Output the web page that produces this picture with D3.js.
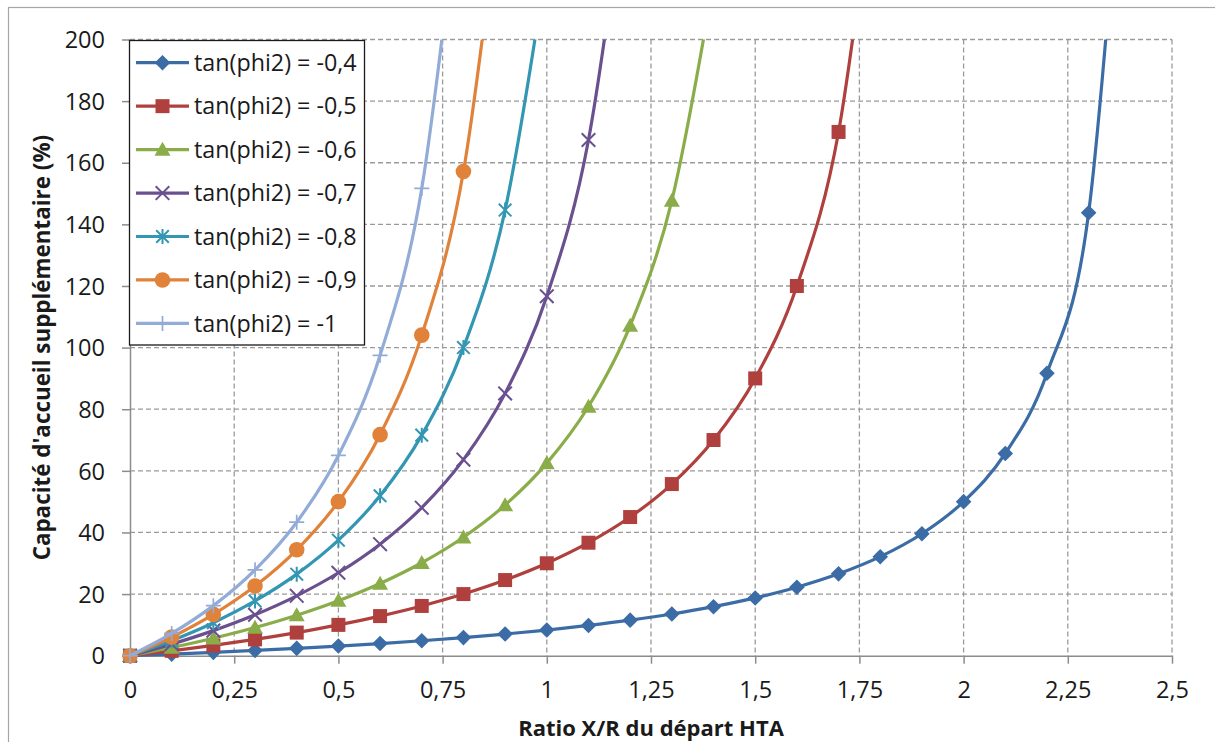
<!DOCTYPE html>
<html><head><meta charset="utf-8">
<script src="https://cdn.jsdelivr.net/npm/d3@7"></script>
<style>body{margin:0;background:#fff}svg{display:block}</style>
</head><body>
<svg id="c" width="1215" height="742"></svg>
<script>
// ---- data (last value of each series lies above the axis max and is clipped) ----
const xValues = [0,0.1,0.2,0.3,0.4,0.5,0.6,0.7,0.8,0.9,1,1.1,1.2,1.3,1.4,1.5,1.6,1.7,1.8,1.9,2,2.1,2.2,2.3,2.4];
const seriesNames = ["tan(phi2) = -0,4","tan(phi2) = -0,5","tan(phi2) = -0,6","tan(phi2) = -0,7","tan(phi2) = -0,8","tan(phi2) = -0,9","tan(phi2) = -1"];
const tan04 = [0,0.52,1.09,1.70,2.38,3.13,3.95,4.86,5.88,7.03,8.33,9.82,11.54,13.54,15.91,18.75,22.22,26.56,32.14,39.58,50,65.63,91.67,143.75,300];
const tan05 = [0,1.58,3.33,5.29,7.5,10,12.86,16.15,20,24.55,30,36.67,45,55.71,70,90,120,170,270];
const tan06 = [0,2.66,5.68,9.15,13.16,17.86,23.44,30.17,38.46,48.91,62.5,80.88,107.14,147.73,218.75];
const tan07 = [0,3.76,8.14,13.29,19.44,26.92,36.21,48.04,63.64,85.14,116.67,167.39,262.5];
const tan08 = [0,4.89,10.71,17.76,26.47,37.5,51.92,71.59,100,144.64,225];
const tan09 = [0,6.04,13.41,22.60,34.38,50,71.74,104.05,157.14,260.53];
const tan10 = [0,7.22,16.25,27.86,43.33,65,97.5,151.67,260];
const xTicks = [0,0.25,0.5,0.75,1,1.25,1.5,1.75,2,2.25,2.5];
const yTicks = [0,20,40,60,80,100,120,140,160,180,200];
const seriesValues = [tan04,tan05,tan06,tan07,tan08,tan09,tan10];
const colors = ["#3B6CA6","#AF403D","#8AAD4A","#6A508F","#3397B3","#E1823A","#92ACD7"];
const markerTypes = ["diamond","square","triangle","x","asterisk","circle","plus"];
const xTitle = "Ratio X/R du départ HTA";
const yTitle = "Capacité d'accueil supplémentaire (%)";

// ---- layout ----
const FONT = "'Open Sans', sans-serif";
const L = 130, R = 1172, T = 39.5, B = 655.7;
const svg = d3.select("#c");
const x = d3.scaleLinear().domain([0,2.5]).range([L,R]);
const y = d3.scaleLinear().domain([0,200]).range([B,T]);
const fmt = d => String(d).replace(".", ",");

// outer frame
svg.append("rect").attr("x",8.5).attr("y",7.5).attr("width",1230).attr("height",760)
  .attr("fill","#fff").attr("stroke","#a6a6a6").attr("stroke-width",1.2);

// gridlines
const grid = svg.append("g");
grid.selectAll("line.h").data(yTicks.filter(d=>d>0)).join("line")
  .attr("x1",L).attr("x2",R).attr("y1",d=>y(d)).attr("y2",d=>y(d))
  .attr("stroke","#9a9a9a").attr("stroke-width",1.3).attr("stroke-dasharray","5,3");
grid.selectAll("line.v").data(xTicks.filter(d=>d>0)).join("line")
  .attr("y1",T).attr("y2",B).attr("x1",d=>x(d)).attr("x2",d=>x(d))
  .attr("stroke","#9a9a9a").attr("stroke-width",1.3).attr("stroke-dasharray","5,3");

// axes
const xAxis = svg.append("g").attr("transform",`translate(0,${B})`)
  .call(d3.axisBottom(x).tickValues(xTicks).tickFormat(fmt).tickSizeOuter(0).tickSizeInner(8).tickPadding(18));
const yAxis = svg.append("g").attr("transform",`translate(${L},0)`)
  .call(d3.axisLeft(y).tickValues(yTicks).tickSizeOuter(0).tickSizeInner(8).tickPadding(17));
[xAxis,yAxis].forEach(a=>{
  a.select(".domain").attr("stroke","#8c8c8c").attr("stroke-width",1.5);
  a.selectAll(".tick line").attr("stroke","#8c8c8c").attr("stroke-width",1.5);
  a.selectAll("text").attr("font-family",FONT).attr("font-size",23.5).attr("fill","#1a1a1a");
});
yAxis.selectAll("text").attr("dy","0.35em");

// clip for lines
svg.append("clipPath").attr("id","plotclip").append("rect")
  .attr("x",L-2).attr("y",T).attr("width",R-L+4).attr("height",B-T+10);

const line = d3.line().x(d=>x(d[0])).y(d=>y(d[1])).curve(d3.curveCardinal.tension(0));

function markerPath(type){
  switch(type){
    case "diamond": return `M0,-7.8L7.8,0L0,7.8L-7.8,0Z`;
    case "square": return `M-7,-7H7V7H-7Z`;
    case "triangle": return `M0,-7.8L8,6.2L-8,6.2Z`;
    case "x": return `M-6.8,-6.8L6.8,6.8M6.8,-6.8L-6.8,6.8`;
    case "asterisk": return `M-6.3,-6.3L6.3,6.3M6.3,-6.3L-6.3,6.3M0,-7.5V7.5`;
    case "plus": return `M-7.5,0H7.5M0,-7.5V7.5`;
  }
}
function drawMarker(g, type, color){
  if(type==="circle"){
    g.append("circle").attr("r",7.8).attr("fill",color);
  } else if(["diamond","square","triangle"].includes(type)){
    g.append("path").attr("d",markerPath(type)).attr("fill",color);
  } else {
    g.append("path").attr("d",markerPath(type)).attr("fill","none").attr("stroke",color).attr("stroke-width",type==="plus"?1.7:2);
  }
}

const plot = svg.append("g");
seriesValues.forEach((vals,i)=>{
  const pts = vals.map((v,j)=>[xValues[j],v]);
  const g = plot.append("g");
  g.append("path").attr("d",line(pts)).attr("fill","none").attr("stroke",colors[i])
    .attr("stroke-width",3.2).attr("clip-path","url(#plotclip)");
  pts.filter(p=>p[1]<=200).forEach(p=>{
    const m = g.append("g").attr("transform",`translate(${x(p[0])},${y(p[1])})`);
    drawMarker(m, markerTypes[i], colors[i]);
  });
});

// legend
const lg = svg.append("g");
lg.append("rect").attr("x",129.5).attr("y",40.5).attr("width",235).attr("height",304.5)
  .attr("fill","#fff").attr("stroke","#1a1a1a").attr("stroke-width",1.3);
seriesNames.forEach((name,i)=>{
  const cy = 62.7 + i*43.45;
  lg.append("line").attr("x1",136).attr("x2",189).attr("y1",cy).attr("y2",cy)
    .attr("stroke",colors[i]).attr("stroke-width",3.2);
  const m = lg.append("g").attr("transform",`translate(162.5,${cy})`);
  drawMarker(m, markerTypes[i], colors[i]);
  lg.append("text").attr("x",194).attr("y",cy).attr("dy","0.35em")
    .attr("font-family",FONT).attr("font-size",23.3).attr("fill","#1a1a1a").text(name);
});

// titles
svg.append("text").attr("x",(L+R)/2).attr("y",736).attr("text-anchor","middle")
  .attr("font-family",FONT).attr("font-weight","bold").attr("font-size",22).attr("fill","#1a1a1a").text(xTitle);
svg.append("text").attr("transform",`translate(50,${(T+B)/2}) rotate(-90)`).attr("text-anchor","middle")
  .attr("font-family",FONT).attr("font-weight","bold").attr("font-size",22.4).attr("fill","#1a1a1a").text(yTitle);
</script>
</body></html>
